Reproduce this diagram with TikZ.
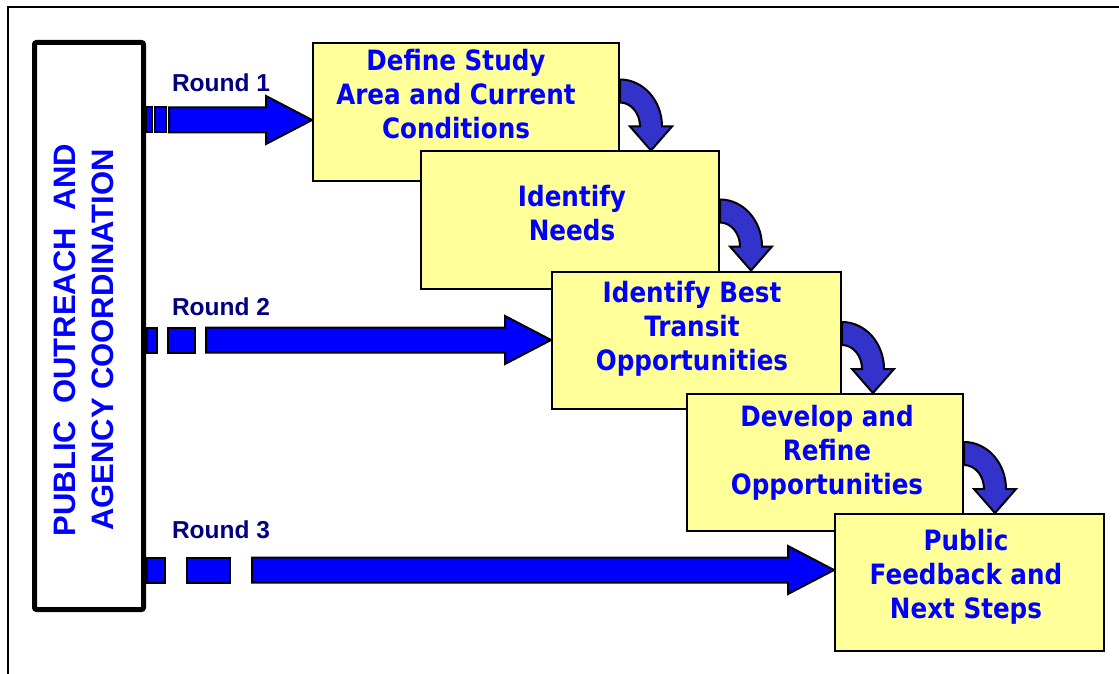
\documentclass[tikz,border=0pt]{standalone}
\usepackage{fontspec}
\usepackage{xcolor}
\usepackage{tikz}
\usetikzlibrary{calc}
\newfontfamily\arialbf{Liberation Sans}
\newfontfamily\tahomabf{DejaVu Sans}[FakeStretch=0.88]
\definecolor{boxyellow}{HTML}{FFFF99}
\definecolor{turnblue}{HTML}{3333CC}
\definecolor{roundnavy}{HTML}{000080}
\colorlet{textblue}{blue}
\tikzstyle{stepbox}=[draw,line width=2pt,fill=boxyellow,minimum height=137pt]
\tikzstyle{steptext}=[align=center,text=textblue,font=\tahomabf\bfseries\fontsize{28}{34}\selectfont]
\tikzstyle{roundlabel}=[text=roundnavy,font=\arialbf\bfseries\fontsize{24.5}{28}\selectfont]
\tikzstyle{piece}=[draw,line width=2pt,fill=blue,line join=miter]
\tikzstyle{turn}=[draw,line width=2pt,fill=turnblue,line join=miter]
% straight arrow: from, to, start of shaft, gap pieces
\newcommand\roundarrow[4]{%
  \foreach \a/\b in {#4}
    \draw[piece] ($(#1)+(\a,-12.5)$) rectangle ($(#1)+(\b,12.5)$);
  \draw[piece] ($(#1)+(#3,-12.5)$) -- ($(#2)+(-46,-12.5)$) -- ($(#2)+(-46,-24)$) -- (#2)
    -- ($(#2)+(-46,24)$) -- ($(#2)+(-46,12.5)$) -- ($(#1)+(#3,12.5)$) -- cycle;
}
% curved arrow from one step to the next
\newcommand\turnarrow[2]{%
  \coordinate (c) at ($(#1.east |- #2.north)+(0,-24)$);
  \draw[turn] ($(c)+(0,-47)$) arc[start angle=-90,end angle=0,x radius=42,y radius=47]
    -- ($(c)+(52,0)$) -- ($(c)+(31,24)$) -- ($(c)+(10,0)$) -- ($(c)+(20,0)$)
    arc[start angle=0,end angle=-90,x radius=20,y radius=24] -- cycle;
}
\begin{document}
\begin{tikzpicture}[x=1pt,y=-1pt]
  \useasboundingbox (0,0) rectangle (1119,674);
  \draw[line width=2.2pt] (8,674) -- (8,7) -- (1119,7);
  \node[draw,line width=5pt,rounded corners=2pt,minimum width=109pt,minimum height=567pt] (pubbox) at (89,326) {};
  \node[rotate=90,align=center,text=textblue,font=\arialbf\bfseries\fontsize{31}{38}\selectfont] (outreach) at (84,340)
    {PUBLIC\ \ OUTREACH\ \ AND\\AGENCY COORDINATION};
  \node[stepbox,minimum width=306pt] (s1) at (466,112) {};
  \node[steptext] (t1) at (456,94) {Define Study\\Area and Current\\Conditions};
  \node[stepbox,minimum width=298pt] (s2) at (570,220) {};
  \node[steptext] (t2) at (572,213) {Identify\\Needs};
  \node[stepbox,minimum width=289pt] (s3) at (696.5,340) {};
  \node[steptext] (t3) at (692,329) {Identify Best\\Transit\\Opportunities};
  \node[stepbox,minimum width=276pt] (s4) at (825,462.5) {};
  \node[steptext] (t4) at (827,453) {Develop and\\Refine\\Opportunities};
  \node[stepbox,minimum width=269pt] (s5) at (969.5,582.5) {};
  \node[steptext] (t5) at (966,577) {Public\\Feedback and\\Next Steps};
  \turnarrow{s1}{s2}
  \turnarrow{s2}{s3}
  \turnarrow{s3}{s4}
  \turnarrow{s4}{s5}
  \coordinate (r1a) at (pubbox.east |- 0,120);
  \coordinate (r1b) at (s1.west |- r1a);
  \coordinate (r2a) at (pubbox.east |- 0,340);
  \coordinate (r2b) at (s3.west |- r2a);
  \coordinate (r3a) at (pubbox.east |- 0,570);
  \coordinate (r3b) at (s5.west |- r3a);
  \roundarrow{r1a}{r1b}{23}{0/6,9/20}
  \roundarrow{r2a}{r2b}{60}{1/11,22/49}
  \roundarrow{r3a}{r3b}{106}{1/19,41/84}
  \node[roundlabel] (round1) at (221,83) {Round 1};
  \node[roundlabel] (round2) at (221,307) {Round 2};
  \node[roundlabel] (round3) at (221,530) {Round 3};
\end{tikzpicture}
\end{document}
